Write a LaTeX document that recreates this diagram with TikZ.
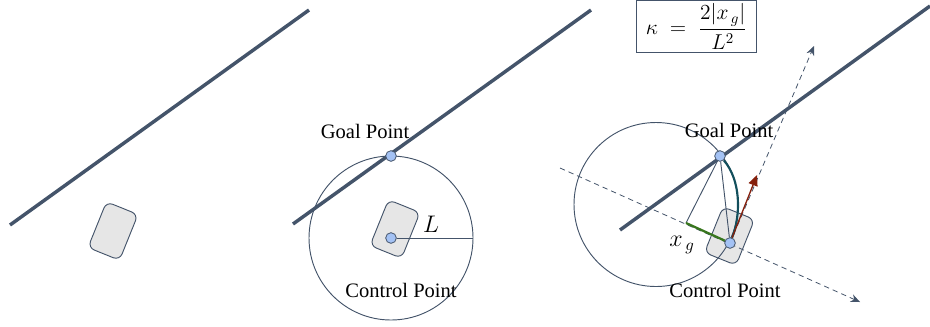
\documentclass[tikz,border=0pt]{standalone}
\usepackage{amsmath,amssymb}
\usepackage{fontspec}
\setmainfont{Liberation Serif}
\usetikzlibrary{arrows.meta,positioning,backgrounds}
\definecolor{ink}{HTML}{44546A}
\definecolor{ptfill}{HTML}{A4C2F4}
\definecolor{carfill}{HTML}{E6E6E6}
\definecolor{offset}{HTML}{38761D}
\definecolor{heading}{HTML}{85200C}
\definecolor{arccol}{HTML}{134F5C}

\begin{document}
\begin{tikzpicture}[
  x=0.75pt,y=-0.75pt,
  road/.style={draw=ink,line width=2.6pt},
  car/.style={rectangle,rounded corners=5pt,draw=ink,line width=0.7pt,fill=carfill,minimum width=25.5pt,minimum height=37pt,rotate=-22,inner sep=0pt},
  pt/.style={circle,draw=ink,line width=0.6pt,fill=ptfill,minimum size=8pt,inner sep=0pt},
  look/.style={circle,draw=ink,line width=0.7pt,minimum size=123pt,inner sep=0pt},
  thinl/.style={draw=ink,line width=0.7pt},
  guide/.style={draw=ink,line width=0.6pt,dashed,dash pattern=on 4pt off 3pt,-{Stealth[length=7pt,width=6pt]}},
  lab/.style={font=\fontsize{15.4}{18}\selectfont,text=black,inner sep=0pt},
  mathlab/.style={font=\Large,text=black,inner sep=0pt,scale=1.25}
]
\useasboundingbox (0,0) rectangle (930,326);

% first panel
\coordinate (roadA1) at (10,225);
\coordinate (roadA2) at (309,10);
\draw[road] (roadA1) -- (roadA2);
\node[car] (carA) at (113,231) {};

% second panel
\coordinate (roadB1) at (293,224);
\coordinate (roadB2) at (591,10);
\node[look] (circB) at (391,238) {};
\draw[road] (roadB1) -- (roadB2);
\node[car] (carB) at (395,229) {};
\node[pt] (goalB) at (391,156) {};
\node[pt] (ctrlB) at (391,238) {};
\coordinate (rimB) at (473,238);
\draw[thinl] (ctrlB) -- (rimB);
\node[lab] (goalBlab) at (365,131) {Goal Point};
\node[lab] (ctrlBlab) at (401,290) {Control Point};
\node[mathlab] (lenB) at (431,224) {$L$};

% third panel
\coordinate (roadC1) at (620,230);
\coordinate (roadC2) at (930,6);
\coordinate (footC) at (686,223);
\coordinate (latS) at (560,168);
\coordinate (latE) at (860,302);
\coordinate (headE) at (814,46);
\coordinate (headT) at (757,175);
\node[pt] (goalC) at (720,156) {};
\node[pt] (ctrlC) at (730,243) {};
\begin{scope}[on background layer]
  \node[car] (carC) at (729.5,236) {};
  \node[look] (circC) at (656,204.5) {};
  \draw[road] (roadC1) -- (roadC2);
  \draw[guide] (latS) -- (latE);
  \draw[guide] (ctrlC.center) -- (headE);
  \draw[thinl] (goalC) -- (footC);
  \draw[thinl] (goalC) -- (ctrlC);
  \draw[draw=offset,line width=1.7pt] (footC) -- (ctrlC);
  \draw[draw=arccol,line width=1.6pt] (goalC) .. controls (741,180) and (741,215) .. (ctrlC);
  \draw[draw=heading,line width=1pt,-{Triangle[length=8pt,width=7pt]}] (ctrlC) -- (headT);
\end{scope}
\node[lab] (goalClab) at (729,130) {Goal Point};
\node[lab] (ctrlClab) at (725,290) {Control Point};
\node[mathlab] (xgC) at (682,245) {$x_{\,g}$};
\node[draw=ink,line width=0.6pt,fill=white,minimum width=90.5pt,minimum height=39.5pt,inner sep=0pt] (formula) at (696.5,26.5) {\scalebox{1.12}{\Large$\kappa\;=\;\dfrac{2|x_{\,g}|}{L^2}$}};
\end{tikzpicture}
\end{document}
